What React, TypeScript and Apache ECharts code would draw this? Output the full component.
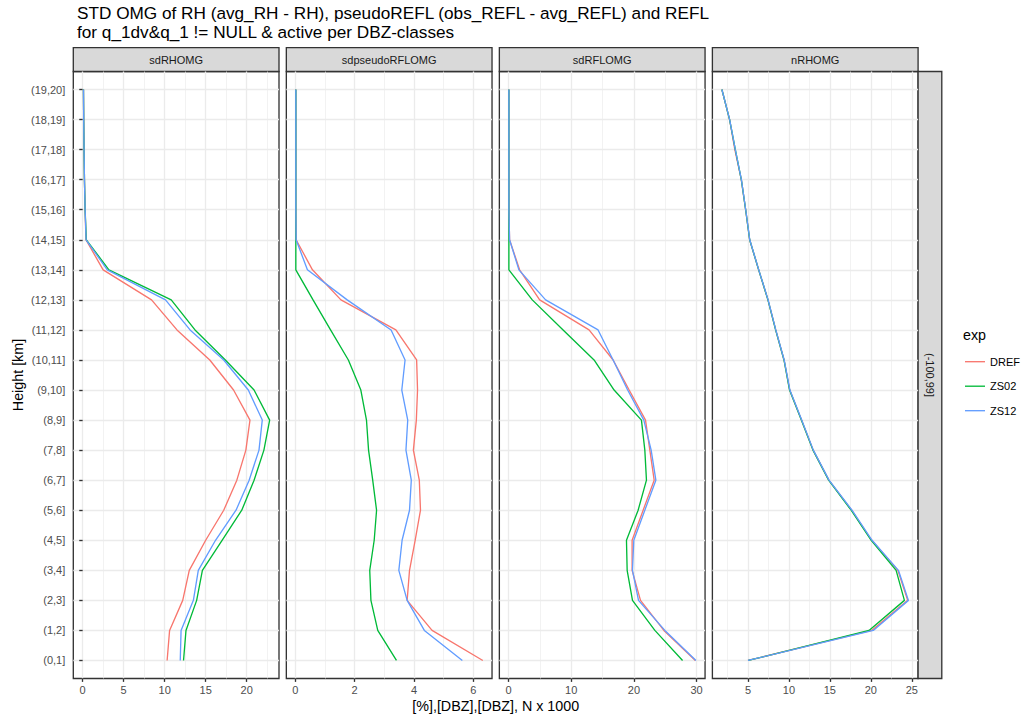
import React, { useEffect, useRef } from 'react';
import * as echarts from 'echarts';

// ---- data ----
const heightClasses = ['(0,1]', '(1,2]', '(2,3]', '(3,4]', '(4,5]', '(5,6]', '(6,7]', '(7,8]', '(8,9]', '(9,10]', '(10,11]', '(11,12]', '(12,13]', '(13,14]', '(14,15]', '(15,16]', '(16,17]', '(17,18]', '(18,19]', '(19,20]'];
const experiments = ['DREF', 'ZS02', 'ZS12'];
const expColors = ['#F8766D', '#00BA38', '#619CFF'];
const panelNames = ['sdRHOMG', 'sdpseudoRFLOMG', 'sdRFLOMG', 'nRHOMG'];
const rowStripLabel = '(-100,99]';

const sdRHOMG_DREF = [10.3, 10.6, 12.2, 13.0, 15.0, 17.2, 18.8, 19.9, 20.4, 18.4, 15.5, 11.5, 8.4, 2.5, 0.4, 0.3, 0.22, 0.17, 0.13, 0.1];
const sdRHOMG_ZS02 = [12.3, 12.6, 13.9, 14.6, 17.0, 19.4, 20.9, 22.1, 22.8, 20.9, 17.4, 13.7, 10.8, 3.2, 0.45, 0.3, 0.22, 0.17, 0.13, 0.1];
const sdRHOMG_ZS12 = [11.9, 12.0, 13.5, 14.1, 16.2, 18.7, 20.3, 21.5, 21.9, 20.2, 17.2, 13.1, 10.1, 3.0, 0.42, 0.3, 0.22, 0.17, 0.13, 0.1];

const sdpseudo_DREF = [6.32, 4.61, 3.77, 3.85, 4.04, 4.22, 4.18, 3.98, 4.08, 4.12, 4.09, 3.39, 1.54, 0.58, 0.03, 0.02, 0.02, 0.02, 0.02, 0.02];
const sdpseudo_ZS02 = [3.41, 2.78, 2.55, 2.51, 2.66, 2.74, 2.61, 2.47, 2.40, 2.21, 1.79, 1.19, 0.6, 0.02, 0.02, 0.02, 0.02, 0.02, 0.02, 0.02];
const sdpseudo_ZS12 = [5.63, 4.35, 3.77, 3.49, 3.60, 3.85, 3.91, 3.73, 3.79, 3.59, 3.70, 3.23, 1.75, 0.41, 0.03, 0.02, 0.02, 0.02, 0.02, 0.02];

const sdRFL_DREF = [29.8, 24.78, 21.05, 19.71, 19.71, 21.47, 23.23, 22.54, 21.85, 19.24, 16.68, 12.84, 4.96, 1.76, 0.16, 0.05, 0.05, 0.05, 0.05, 0.05];
const sdRFL_ZS02 = [27.76, 23.34, 19.77, 18.92, 18.81, 20.67, 22.0, 21.74, 21.2, 16.84, 13.64, 8.7, 3.78, 0.05, 0.05, 0.05, 0.05, 0.05, 0.05, 0.05];
const sdRFL_ZS12 = [29.9, 24.94, 20.73, 19.77, 19.98, 21.74, 23.5, 22.75, 21.58, 19.0, 16.68, 14.28, 5.91, 1.65, 0.16, 0.05, 0.05, 0.05, 0.05, 0.05];

const nRH_DREF = [5.0, 20.1, 24.5, 23.3, 20.11, 17.66, 14.88, 12.96, 11.54, 10.1, 9.41, 8.39, 7.45, 6.31, 5.21, 4.72, 4.19, 3.4, 2.76, 1.82];
const nRH_ZS02 = [5.05, 19.78, 24.1, 23.09, 20.05, 17.6, 14.85, 12.94, 11.52, 10.08, 9.4, 8.38, 7.44, 6.31, 5.21, 4.72, 4.19, 3.46, 2.76, 1.82];
const nRH_ZS12 = [5.0, 20.3, 24.59, 23.37, 20.15, 17.7, 14.9, 12.98, 11.56, 10.12, 9.42, 8.4, 7.46, 6.32, 5.22, 4.73, 4.2, 3.46, 2.77, 1.82];

const panelSeries = [
  [sdRHOMG_DREF, sdRHOMG_ZS02, sdRHOMG_ZS12],
  [sdpseudo_DREF, sdpseudo_ZS02, sdpseudo_ZS12],
  [sdRFL_DREF, sdRFL_ZS02, sdRFL_ZS12],
  [nRH_DREF, nRH_ZS02, nRH_ZS12],
];

const panelMajorTicks = [[0, 5, 10, 15, 20], [0, 2, 4, 6], [0, 10, 20, 30], [5, 10, 15, 20, 25]];
const panelMinorTicks = [[2.5, 7.5, 12.5, 17.5, 22.5], [1, 3, 5], [5, 15, 25], [2.5, 7.5, 12.5, 17.5, 22.5]];
const panelRanges = [[-1.14, 23.94], [-0.3, 6.63], [-1.47, 31.35], [0.66, 25.77]];

const titleLine1 = 'STD OMG of RH (avg_RH - RH), pseudoREFL (obs_REFL - avg_REFL) and REFL';
const titleLine2 = 'for q_1dv&q_1 != NULL & active per DBZ-classes';
const xTitle = '[%],[DBZ],[DBZ], N x 1000';
const yTitle = 'Height [km]';
const legendTitle = 'exp';

// ---- layout ----
const PANEL_LEFT = 73.3;
const PANEL_W = 205.7;
const PANEL_GAP = 7.33;
const PANEL_TOP = 71.5;
const PANEL_BOTTOM = 678.5;
const STRIP_H = 23.8;
const FONT = '"Liberation Sans", Arial, Helvetica, sans-serif';

export default function App() {
  const ref = useRef<HTMLDivElement>(null);

  useEffect(() => {
    if (!ref.current) return;
    const chart = echarts.init(ref.current, null, { renderer: 'svg' });
    const idxs = heightClasses.map((_, i) => i);
    const panelH = PANEL_BOTTOM - PANEL_TOP;

    const grids: any[] = [];
    const xAxes: any[] = [];
    const yAxes: any[] = [];
    const series: any[] = [];
    const graphics: any[] = [];

    panelNames.forEach((name, p) => {
      const left = PANEL_LEFT + p * (PANEL_W + PANEL_GAP);
      grids.push({
        left, top: PANEL_TOP, width: PANEL_W, height: panelH,
        show: true, borderColor: '#333333', borderWidth: 1.33, backgroundColor: '#FFFFFF',
        containLabel: false, outerBoundsMode: 'none',
      });
      // minor grid axis
      xAxes.push({
        type: 'value', gridIndex: p, position: 'bottom', min: panelRanges[p][0], max: panelRanges[p][1],
        axisLine: { show: false },
        axisTick: { show: false, customValues: panelMinorTicks[p] },
        axisLabel: { show: false, customValues: panelMinorTicks[p] },
        splitLine: { show: true, lineStyle: { color: '#EBEBEB', width: 0.67 } },
      });
      // major axis
      xAxes.push({
        type: 'value', gridIndex: p, position: 'bottom', min: panelRanges[p][0], max: panelRanges[p][1],
        axisLine: { show: false },
        axisTick: { show: true, length: 3.4, customValues: panelMajorTicks[p], lineStyle: { color: '#333333', width: 1.33 } },
        axisLabel: { show: true, customValues: panelMajorTicks[p], fontSize: 11, color: '#4D4D4D', margin: 6, fontFamily: FONT },
        splitLine: { show: true, lineStyle: { color: '#EBEBEB', width: 1.33 } },
      });
      yAxes.push({
        type: 'value', gridIndex: p, min: -0.6, max: 19.6,
        axisLine: { show: false },
        axisTick: { show: p === 0, length: 3.4, customValues: idxs, lineStyle: { color: '#333333', width: 1.33 } },
        axisLabel: {
          show: p === 0, customValues: idxs, fontSize: 11, color: '#4D4D4D', margin: 8, fontFamily: FONT,
          formatter: (v: number) => heightClasses[Math.round(v)] ?? '',
        },
        splitLine: { show: true, lineStyle: { color: '#EBEBEB', width: 1.33 } },
      });
      experiments.forEach((exp, e) => {
        series.push({
          type: 'line', name: exp, xAxisIndex: 2 * p + 1, yAxisIndex: p,
          data: panelSeries[p][e].map((v, i) => [v, i]),
          symbol: 'none', showSymbol: false, smooth: false,
          lineStyle: { color: expColors[e], width: 1.33 },
          itemStyle: { color: expColors[e] },
          emphasis: { disabled: true }, silent: true, z: 3,
        });
      });
      // top strip
      graphics.push({
        type: 'rect', shape: { x: left, y: PANEL_TOP - STRIP_H, width: PANEL_W, height: STRIP_H },
        style: { fill: '#D9D9D9', stroke: '#333333', lineWidth: 1.33 }, silent: true,
      });
      graphics.push({
        type: 'text', x: left + PANEL_W / 2, y: PANEL_TOP - STRIP_H / 2,
        style: { text: name, fontSize: 11, fill: '#1A1A1A', align: 'center', verticalAlign: 'middle', fontFamily: FONT },
        silent: true,
      });
    });

    const lastRight = PANEL_LEFT + 4 * PANEL_W + 3 * PANEL_GAP;
    graphics.push({
      type: 'rect', shape: { x: lastRight, y: PANEL_TOP, width: 23.7, height: panelH },
      style: { fill: '#D9D9D9', stroke: '#333333', lineWidth: 1.33 }, silent: true,
    });
    graphics.push({
      type: 'text', x: lastRight + 11.85, y: PANEL_TOP + panelH / 2, rotation: -Math.PI / 2,
      style: { text: rowStripLabel, fontSize: 11, fill: '#1A1A1A', align: 'center', verticalAlign: 'middle', fontFamily: FONT },
      silent: true,
    });
    graphics.push({
      type: 'text', x: 77, y: 13,
      style: { text: titleLine1, fontSize: 17.2, fill: '#000000', align: 'left', verticalAlign: 'middle', fontFamily: FONT },
    });
    graphics.push({
      type: 'text', x: 77, y: 32,
      style: { text: titleLine2, fontSize: 17.2, fill: '#000000', align: 'left', verticalAlign: 'middle', fontFamily: FONT },
    });
    graphics.push({
      type: 'text', x: (PANEL_LEFT + lastRight) / 2, y: 706,
      style: { text: xTitle, fontSize: 14.3, fill: '#000000', align: 'center', verticalAlign: 'middle', fontFamily: FONT },
    });
    graphics.push({
      type: 'text', x: 18, y: PANEL_TOP + panelH / 2, rotation: Math.PI / 2,
      style: { text: yTitle, fontSize: 14.3, fill: '#000000', align: 'center', verticalAlign: 'middle', fontFamily: FONT },
    });
    graphics.push({
      type: 'text', x: 963, y: 335,
      style: { text: legendTitle, fontSize: 14.3, fill: '#000000', align: 'left', verticalAlign: 'middle', fontFamily: FONT },
    });

    chart.setOption({
      animation: false,
      backgroundColor: '#FFFFFF',
      textStyle: { fontFamily: FONT },
      grid: grids,
      xAxis: xAxes,
      yAxis: yAxes,
      series,
      legend: {
        show: true, orient: 'vertical', left: 965, top: 354.7, padding: 0,
        icon: 'rect', itemWidth: 20, itemHeight: 1.33, itemGap: 10.5, itemTextGap: 10,
        textStyle: { fontSize: 11, lineHeight: 14, color: '#000000', fontFamily: FONT },
        data: experiments, selectedMode: false,
      },
      graphic: graphics,
    });

    return () => chart.dispose();
  }, []);

  return <div ref={ref} style={{ position: 'fixed', left: 0, top: 0, width: 1026, height: 717 }} />;
}
